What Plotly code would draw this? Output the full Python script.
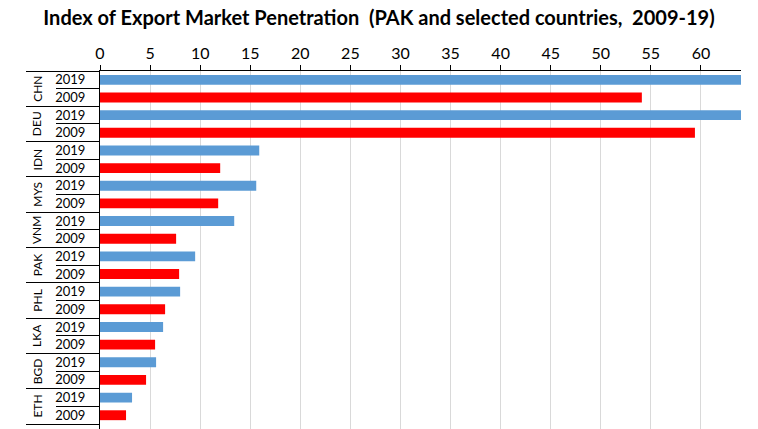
import plotly.graph_objects as go

countries = ["CHN", "DEU", "IDN", "MYS", "VNM", "PAK", "PHL", "LKA", "BGD", "ETH"]
years = ["2019", "2009"]
vals_2019 = [66.0, 68.0, 15.9, 15.6, 13.4, 9.5, 8.0, 6.3, 5.6, 3.2]
vals_2009 = [54.1, 59.4, 12.0, 11.8, 7.6, 7.9, 6.5, 5.5, 4.6, 2.6]
x_ticks = list(range(0, 61, 5))

FONT = "Lato"
BLUE = "#5B9BD5"
RED = "#FF0000"

# one row per country/year, 2019 first
keys, xs, colors, labels = [], [], [], []
for c, v19, v09 in zip(countries, vals_2019, vals_2009):
    for y, v, col in zip(years, [v19, v09], [BLUE, RED]):
        keys.append(c + "|" + y)
        labels.append(y)
        xs.append(v)
        colors.append(col)

n = len(keys)
y_range = [n - 0.22, -0.5]
group_edges = [i - 0.5 for i in range(0, n + 1, 2)]
year_edges = [i - 0.5 for i in range(1, n, 2)]

fig = go.Figure()
fig.add_trace(go.Bar(x=xs, y=keys, orientation="h", marker=dict(color=colors, line=dict(width=0)),
                     showlegend=False, hoverinfo="x+y"))
# empty traces so the helper axes (left label lines) get drawn
fig.add_trace(go.Scatter(x=[], y=[], yaxis="y2", showlegend=False))
fig.add_trace(go.Scatter(x=[], y=[], yaxis="y3", showlegend=False))

annotations = []
for i, c in enumerate(countries):
    annotations.append(dict(x=-0.098, xref="paper", y=2 * i + 0.5, yref="y", text=c, showarrow=False,
                            textangle=-90, xanchor="center", yanchor="middle",
                            font=dict(family=FONT, size=12, color="black")))

helper = dict(overlaying="y", type="linear", range=y_range, showgrid=False, zeroline=False,
              showticklabels=False, ticks="outside", tickcolor="black", tickwidth=1, showline=False)

fig.update_layout(
    title=dict(text="<b>Index of Export Market Penetration  (PAK and selected countries,  2009-19)</b>",
               x=0.5, xref="container", xanchor="center", y=0.958, yanchor="middle",
               font=dict(family=FONT, size=20, color="black")),
    width=758, height=429,
    margin=dict(l=100, r=17, t=71, b=0),
    plot_bgcolor="white", paper_bgcolor="white",
    bargap=0.44,
    annotations=annotations,
    xaxis=dict(side="top", range=[0, 64], tickvals=x_ticks, showgrid=True, gridcolor="#D9D9D9",
               showline=True, linecolor="black", linewidth=1, ticks="outside", ticklen=5,
               tickcolor="black", zeroline=False, tickfont=dict(family=FONT, size=16, color="black")),
    yaxis=dict(type="category", categoryarray=keys, range=y_range, tickvals=keys, ticktext=labels,
               showline=True, linecolor="black", linewidth=1, ticks="", showgrid=False,
               ticklabelstandoff=11, tickfont=dict(family=FONT, size=13, color="black")),
    yaxis2=dict(helper, tickvals=group_edges, ticklen=73),
    yaxis3=dict(helper, tickvals=year_edges, ticklen=43),
)

fig.write_html("out.html", config={"displayModeBar": False},
               post_script="document.body.style.margin='0';")
